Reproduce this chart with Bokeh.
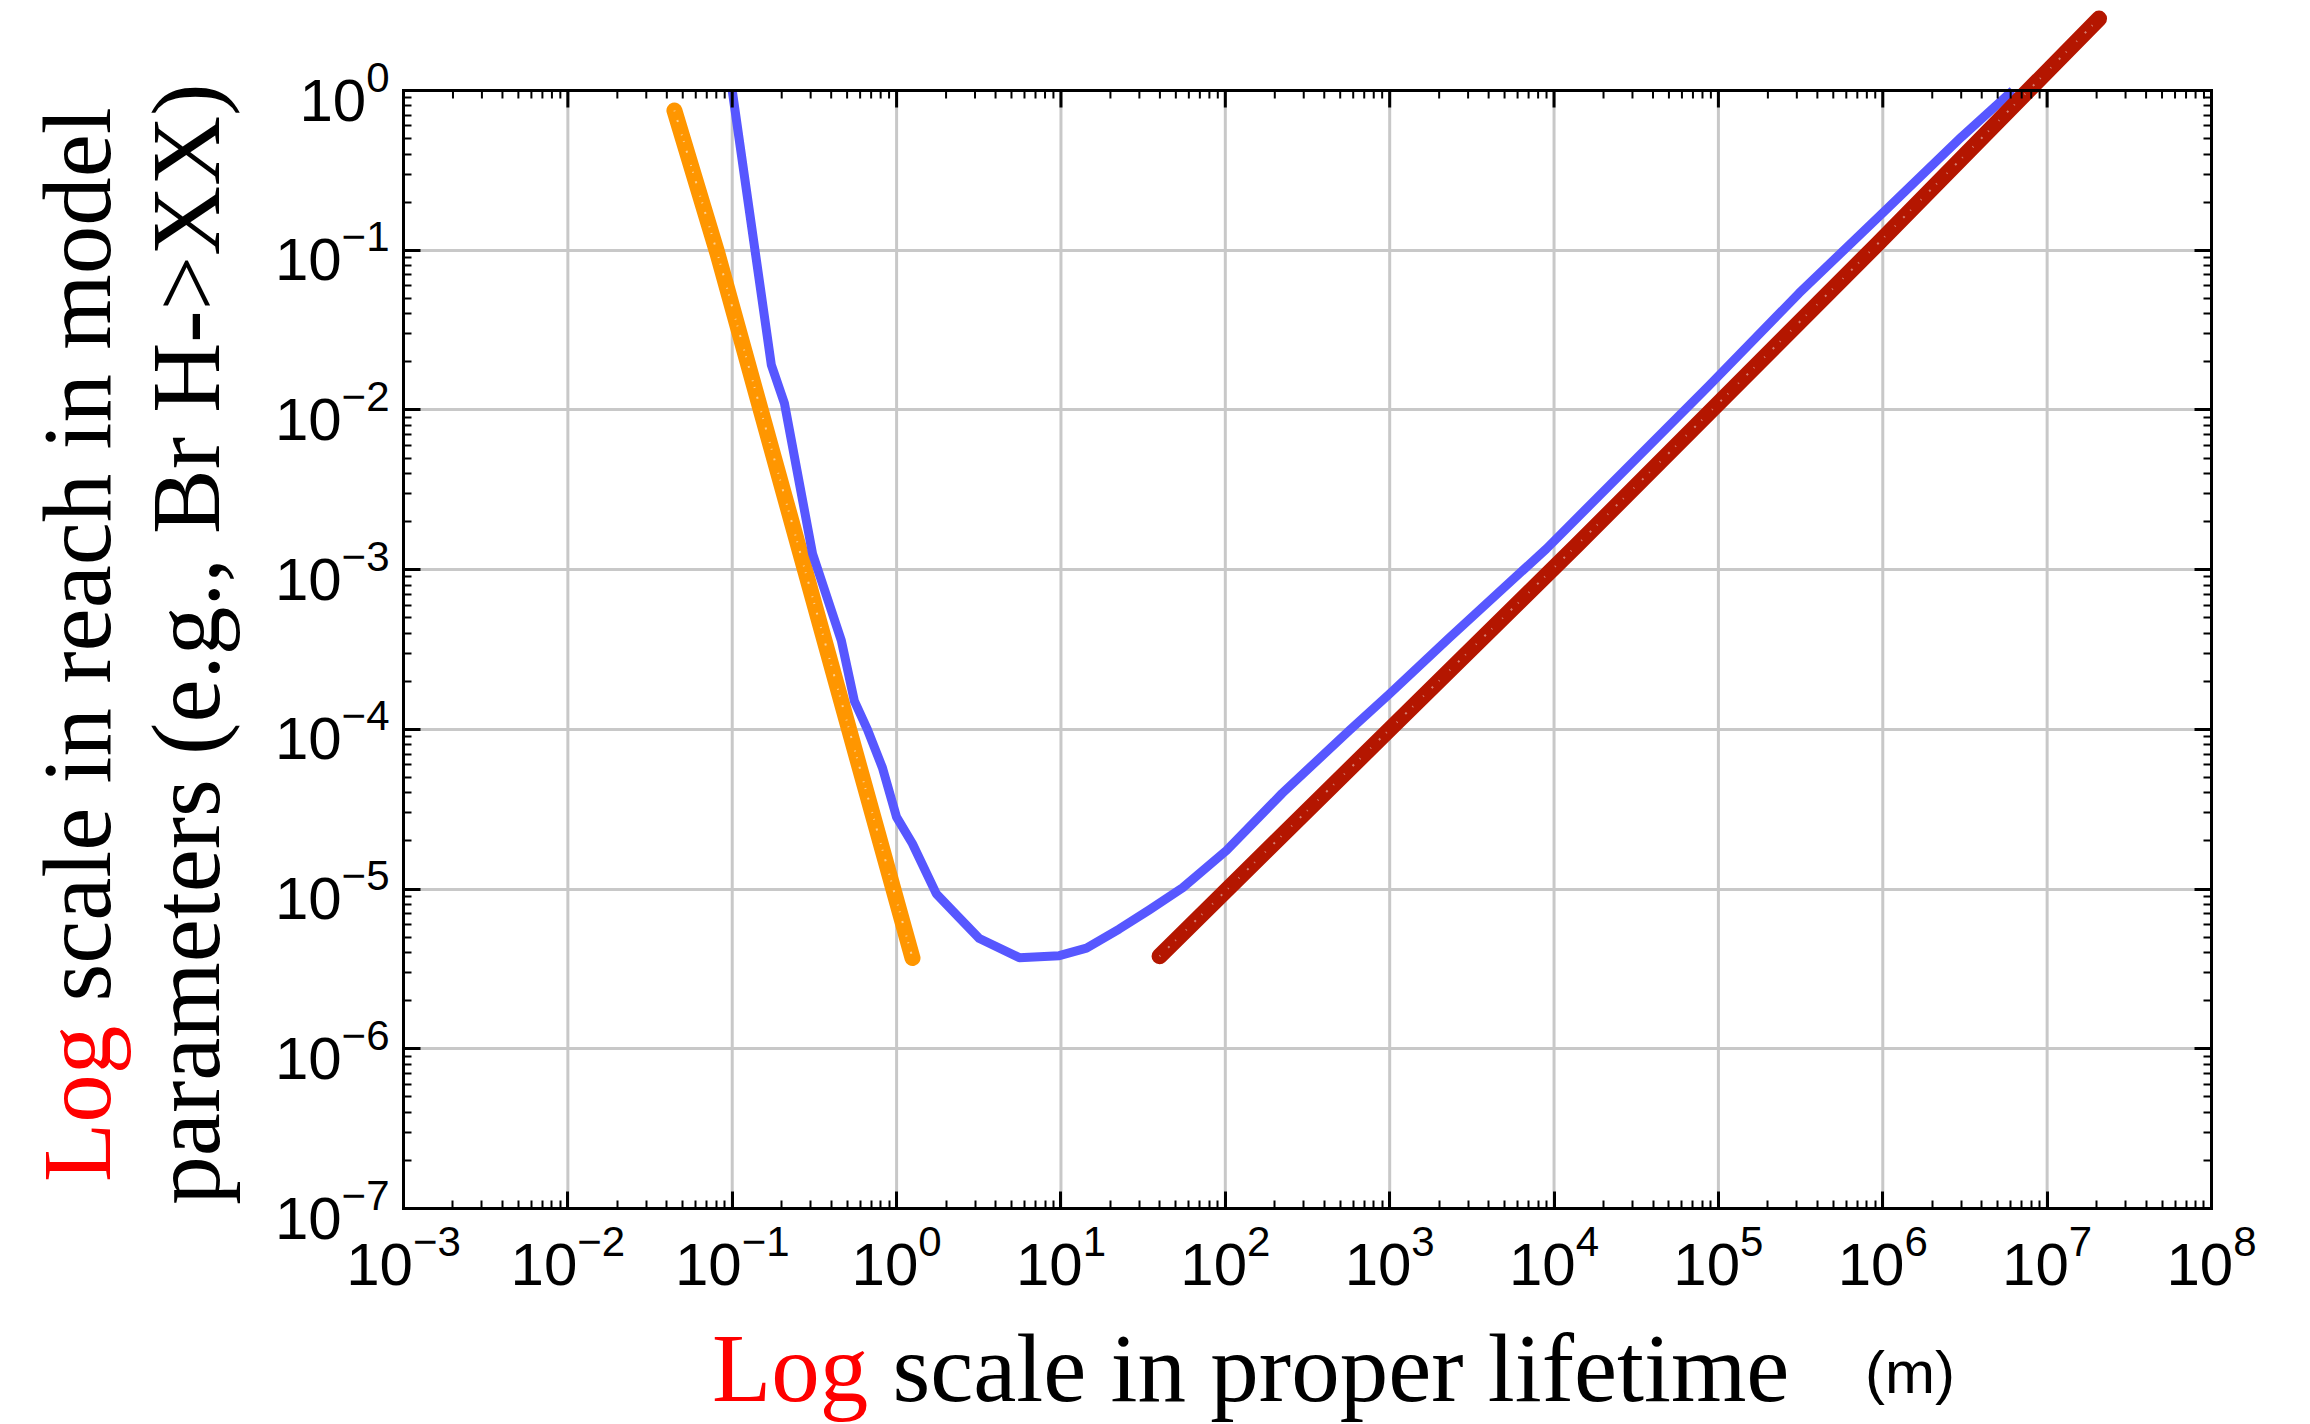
import math
from bokeh.plotting import figure
from bokeh.layouts import row, column
from bokeh.models import (Range1d, LogAxis, FixedTicker, Div,
                          CustomJSTickFormatter)
from bokeh.embed import file_html
from bokeh.resources import INLINE

# ---------------- data ----------------
x_exponents = list(range(-3, 9))      # tick decades on x
y_exponents = list(range(-7, 1))      # tick decades on y

blue_x = [0.1, 0.173, 0.208, 0.308, 0.461, 0.553, 0.664, 0.820, 1.0, 1.247,
          1.746, 2.41, 3.19, 5.58, 9.77, 14.3, 22.6, 34.5, 55.0, 101.4,
          222.0, 568.0, 1000.0, 2291.0, 8974.0, 8.71e4, 3.09e5, 9.91e5,
          3.02e6, 6.17e6]
blue_y = [1.0, 0.0191, 0.01096, 1.26e-3, 3.60e-4, 1.51e-4, 1.0e-4, 5.75e-5,
          2.82e-5, 1.93e-5, 9.33e-6, 6.61e-6, 4.90e-6, 3.72e-6, 3.83e-6,
          4.27e-6, 5.62e-6, 7.41e-6, 1.02e-5, 1.74e-5, 3.98e-5, 9.84e-5,
          1.67e-4, 3.72e-4, 1.35e-3, 0.0141, 0.0537, 0.170, 0.513, 1.0]

orange_x = [0.0445, 0.0813, 0.516, 1.25]
orange_y = [0.75, 0.0955, 9.84e-5, 3.7e-6]

red_x = [39.8, 1000.0, 1.365e4, 9.5e5, 2.07e7]
red_y = [3.8e-6, 1.0e-4, 1.41e-3, 0.112, 2.82]

x_label_log = "Log"
x_label_rest = "scale in proper lifetime"
x_label_unit = "(m)"
y_label_log = "Log"
y_label_rest = "scale in reach in model"
y_label_line2 = "parameters (e.g., Br H-&gt;XX)"

# ---------------- layout constants ----------------
W, H = 2310, 1424
L, R, T, B = 403, 2211, 90, 1208          # axes box in page pixels
YLAB_W = 245                              # strip for the y title
MAIN_H = 1330                             # main figure height
XLAB_H = H - MAIN_H                       # strip for the x title
X0, X1 = min(x_exponents), max(x_exponents)
Y0, Y1 = min(y_exponents), max(y_exponents)
px_per_dec_y = (B - T) / (Y1 - Y0)
y_top = Y1 + T / px_per_dec_y             # frame reaches page top

BLUE = "#5757ff"
ORANGE = "#ff9600"
RED = "#b41600"
GRID = "#c8c8c8"
SERIF = "Liberation Serif"
SANS = "Liberation Sans"
TICK_FS = "60px"

p = figure(width=W - YLAB_W, height=MAIN_H, x_axis_type="log", y_axis_type="log",
           x_range=Range1d(10.0 ** X0, 10.0 ** X1),
           y_range=Range1d(10.0 ** Y0, 10.0 ** y_top),
           output_backend="svg", toolbar_location=None,
           min_border_left=L - YLAB_W, min_border_right=W - R,
           min_border_top=0, min_border_bottom=MAIN_H - B)
p.background_fill_color = "white"
p.border_fill_color = "white"
p.outline_line_color = None

x_major = [10.0 ** e for e in x_exponents]
y_major = [10.0 ** e for e in y_exponents]
x_minor = [m * 10.0 ** e for e in x_exponents[:-1] for m in range(2, 10)]
y_minor = [m * 10.0 ** e for e in y_exponents[:-1] for m in range(2, 10)]
xt = FixedTicker(ticks=x_major, minor_ticks=x_minor)
yt = FixedTicker(ticks=y_major, minor_ticks=y_minor)

bottom = p.below[0]
left = p.left[0]
bottom.ticker = xt
left.ticker = yt
p.xgrid.visible = False
p.ygrid.ticker = yt
p.ygrid.grid_line_color = GRID
p.ygrid.grid_line_width = 3

right = LogAxis(ticker=yt, formatter=CustomJSTickFormatter(code="return ''"))
p.add_layout(right, "right")
left.bounds = (10.0 ** Y0, 10.0 ** Y1)
right.bounds = (10.0 ** Y0, 10.0 ** Y1)

for ax in [bottom, left, right]:
    ax.axis_line_width = 3
    ax.axis_line_color = "black"
    ax.axis_line_cap = "square"
    ax.major_tick_in = 17
    ax.major_tick_out = 0
    ax.minor_tick_in = 8
    ax.minor_tick_out = 0
    ax.major_tick_line_width = 3
    ax.minor_tick_line_width = 2
    ax.major_tick_line_color = "black"
    ax.minor_tick_line_color = "black"
for ax in [bottom, left]:
    ax.major_label_text_font = SANS
    ax.major_label_text_font_size = TICK_FS
    ax.major_label_text_color = "black"
bottom.major_label_standoff = 16
left.major_label_standoff = 14

# vertical grid lines, stopping at the top edge of the axes box
p.segment(x0=x_major[1:-1], y0=10.0 ** Y0, x1=x_major[1:-1], y1=10.0 ** Y1,
          line_color=GRID, line_width=3)

# ---------------- curves ----------------
p.line(orange_x, orange_y, line_color=ORANGE, line_width=16, line_cap="round")
p.line(orange_x, orange_y, line_color="white", line_width=2, line_alpha=0.55,
       line_dash="1 9 2 13 1 6")
p.line(blue_x, blue_y, line_color=BLUE, line_width=9, line_join="round")
p.line(red_x, red_y, line_color=RED, line_width=16, line_cap="round",
       line_join="round")
p.line(red_x, red_y, line_color="white", line_width=2, line_alpha=0.45,
       line_dash="1 11 2 8 1 14")

# top edge of the axes box with inward ticks
p.segment(x0=10.0 ** X0, y0=10.0 ** Y1, x1=10.0 ** X1, y1=10.0 ** Y1,
          line_color="black", line_width=3, line_cap="square")
p.ray(x=x_major, y=[10.0 ** Y1] * len(x_major), length=17, angle=-math.pi / 2,
      length_units="screen", line_color="black", line_width=3)
p.ray(x=x_minor, y=[10.0 ** Y1] * len(x_minor), length=8, angle=-math.pi / 2,
      length_units="screen", line_color="black", line_width=2)

# ---------------- axis titles (HTML, mixed colours) ----------------
SFS = 97                     # serif title size, px
asc, desc = 0.891, 0.216     # Liberation Serif metrics
top_off = SFS / 2 + (asc - desc) / 2 * SFS   # baseline offset inside a line box


def line_top(baseline):
    return baseline - top_off


y_html = (
    f'<div style="position:relative;width:{YLAB_W}px;height:{MAIN_H}px;">'
    f'<div style="position:absolute;left:0;top:0;width:{MAIN_H}px;height:{YLAB_W}px;'
    f'transform-origin:0 0;transform:translate(0px,{MAIN_H}px) rotate(-90deg);'
    f"font-family:'{SERIF}';font-size:{SFS}px;line-height:{SFS}px;"
    f'color:black;white-space:nowrap;">'
    f'<div style="position:absolute;left:{MAIN_H - 1182}px;top:{line_top(110):.1f}px;">'
    f'<span style="color:red;">{y_label_log}</span> {y_label_rest}</div>'
    f'<div style="position:absolute;left:{MAIN_H - 644 - MAIN_H / 2:.1f}px;width:{MAIN_H}px;'
    f'text-align:center;top:{line_top(219):.1f}px;">{y_label_line2}</div>'
    f'</div></div>'
)
ydiv = Div(text=y_html, width=YLAB_W, height=MAIN_H, margin=0)

x_base = 1401 - MAIN_H
u_base = 1394 - MAIN_H
UFS = 60
u_top = u_base - (UFS / 2 + (0.905 - 0.212) / 2 * UFS)
x_html = (
    f'<div style="position:relative;width:{W}px;height:{XLAB_H}px;white-space:nowrap;">'
    f'<div style="position:absolute;left:712px;top:{line_top(x_base):.1f}px;'
    f"font-family:'{SERIF}';font-size:{SFS}px;line-height:{SFS}px;color:black;\">"
    f'<span style="color:red;">{x_label_log}</span> {x_label_rest}</div>'
    f'<div style="position:absolute;left:1865px;top:{u_top:.1f}px;'
    f"font-family:'{SANS}';font-size:{UFS}px;line-height:{UFS}px;color:black;\">"
    f'{x_label_unit}</div>'
    f'</div>'
)
xdiv = Div(text=x_html, width=W, height=XLAB_H, margin=0)

layout = column(row(ydiv, p, spacing=0), xdiv, spacing=0)
open("out.html", "w").write(file_html(layout, INLINE))
